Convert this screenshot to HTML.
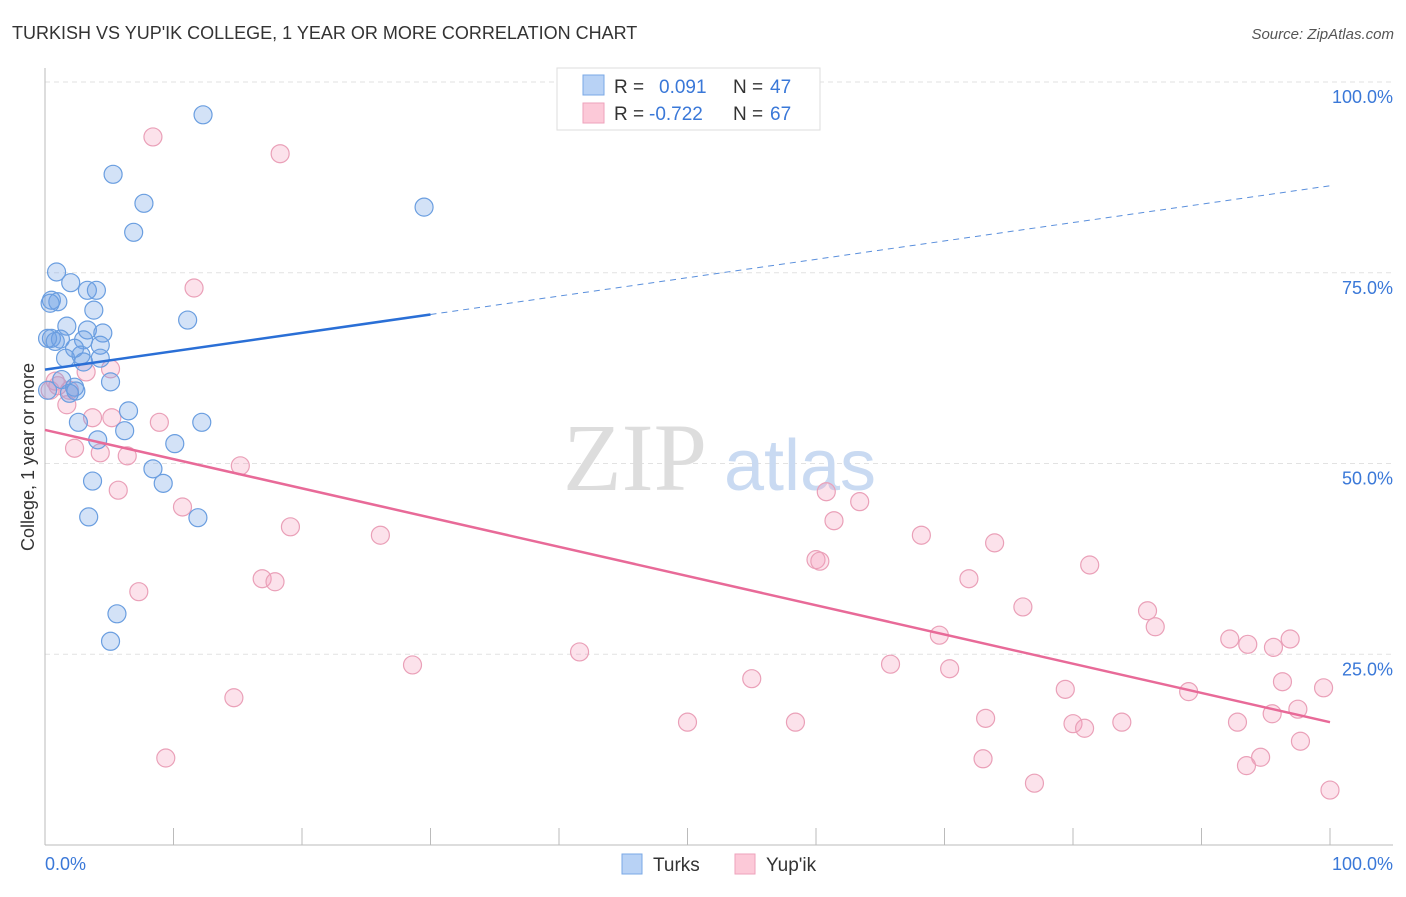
<!DOCTYPE html>
<html><head><meta charset="utf-8"><style>
body{margin:0;background:#fff;font-family:"Liberation Sans",sans-serif;}
</style></head><body>
<svg id="chart" width="1406" height="892" xmlns="http://www.w3.org/2000/svg" style="font-family:'Liberation Sans',sans-serif">
<text x="12" y="39" font-size="18" fill="#333">TURKISH VS YUP'IK COLLEGE, 1 YEAR OR MORE CORRELATION CHART</text>
<text x="1394" y="39" font-size="15" fill="#555" text-anchor="end" font-style="italic">Source: ZipAtlas.com</text>
<g id="grid"></g>
<text x="635" y="490" font-size="96" fill="#ddd" font-family="Liberation Serif,serif" text-anchor="middle">ZIP</text>
<text x="800" y="490" font-size="72" fill="#c9daf2" text-anchor="middle">atlas</text>
<text transform="translate(34,457) rotate(-90)" font-size="18" fill="#333" text-anchor="middle">College, 1 year or more</text>
<g id="pts"></g>
<g id="lines"></g>
<g>
<rect x="557" y="68" width="263" height="62" fill="#fff" stroke="#ddd"/>
<rect x="583" y="75" width="21" height="20" fill="#b8d2f5" stroke="#7aa8e6"/>
<rect x="583" y="103" width="21" height="20" fill="#fcc9d8" stroke="#eea2bb"/>
<text x="614" y="93" font-size="19" fill="#333">R = </text><text x="659" y="93" font-size="19" fill="#3a78d8">0.091</text>
<text x="733" y="93" font-size="19" fill="#333">N = </text><text x="770" y="93" font-size="19" fill="#3a78d8">47</text>
<text x="614" y="120" font-size="19" fill="#333">R = </text><text x="649" y="120" font-size="19" fill="#3a78d8">-0.722</text>
<text x="733" y="120" font-size="19" fill="#333">N = </text><text x="770" y="120" font-size="19" fill="#3a78d8">67</text>
</g>
<g>
<rect x="622" y="854" width="20" height="20" fill="#b8d2f5" stroke="#7aa8e6"/>
<text x="653" y="871" font-size="19" fill="#333">Turks</text>
<rect x="735" y="854" width="20" height="20" fill="#fcc9d8" stroke="#eea2bb"/>
<text x="766" y="871" font-size="19" fill="#333">Yup'ik</text>
</g>
</svg>
<script>
const blueX=[12.3,5.3,7.7,6.9,29.5,0.9,2.0,3.3,4.0,0.5,1.0,3.8,11.1,1.7,3.3,4.5,0.5,1.2,3.0,2.3,4.3,1.6,2.8,4.3,3.0,5.1,1.3,2.3,2.4,1.9,6.5,2.6,12.2,6.2,4.1,10.1,8.4,9.2,3.7,11.9,3.4,5.6,5.1,0.2,0.2,0.8,0.4];
const blueY=[95.7,87.9,84.1,80.3,83.6,75.1,73.7,72.7,72.7,71.4,71.2,70.1,68.8,68.0,67.5,67.1,66.4,66.3,66.2,65.1,65.5,63.8,64.2,63.8,63.3,60.7,61.0,60.0,59.5,59.2,56.9,55.4,55.4,54.3,53.1,52.6,49.3,47.4,47.7,42.9,43.0,30.3,26.7,66.4,59.6,66.0,71.0];
const pinkX=[8.4,18.3,11.6,5.1,3.2,0.8,0.4,1.7,3.7,5.2,8.9,2.3,4.3,6.4,15.2,5.7,10.7,60.8,63.4,61.4,19.1,26.1,68.2,73.9,60.0,60.3,81.3,16.9,17.9,71.9,7.3,76.1,85.8,86.4,69.6,92.2,93.6,95.6,96.9,41.6,28.6,65.8,70.4,55.0,96.3,79.4,89.0,99.5,14.7,50.0,58.4,73.2,80.0,80.9,83.8,92.8,95.5,97.5,97.7,9.4,73.0,94.6,93.5,77.0,100,1.0,1.9];
const pinkY=[92.8,90.6,73.0,62.4,62.0,60.8,59.6,57.7,56.0,56.0,55.4,52.0,51.4,51.0,49.7,46.5,44.3,46.3,45.0,42.5,41.7,40.6,40.6,39.6,37.4,37.2,36.7,34.9,34.5,34.9,33.2,31.2,30.7,28.6,27.5,27.0,26.3,25.9,27.0,25.3,23.6,23.7,23.1,21.8,21.4,20.4,20.1,20.6,19.3,16.1,16.1,16.6,15.9,15.3,16.1,16.1,17.2,17.8,13.6,11.4,11.3,11.5,10.4,8.1,7.2,60.2,59.6];
const yTicks=[25,50,75,100];
const xTickLabels=["0.0%","100.0%"];
const blueTrend=[62.3,86.4];
const pinkTrend=[54.4,16.1];
const NS="http://www.w3.org/2000/svg";
const X=v=>45+v*12.85, Y=v=>845-v*7.63;
function mk(t,a,p){const e=document.createElementNS(NS,t);for(const k in a)e.setAttribute(k,a[k]);p.appendChild(e);return e;}
const g=document.getElementById('grid');
yTicks.forEach(t=>{
 const l=mk('line',{x1:45,x2:1393,y1:Y(t),y2:Y(t),stroke:'#e2e2e2','stroke-dasharray':'5,4'},g);
 
 
 const tx=mk('text',{x:1393,y:Y(t)+21,'font-size':18,fill:'#3a78d8','text-anchor':'end'},g);
 tx.textContent=t.toFixed(1)+'%';
 
 
});
const ax=mk('line',{x1:45,x2:45,y1:68,y2:845,stroke:'#bbb'},g);


const bx=mk('line',{x1:45,x2:1393,y1:845,y2:845,stroke:'#bbb'},g);


for(let i=0;i<=10;i++){const t=mk('line',{x1:X(i*10),x2:X(i*10),y1:828,y2:845,stroke:'#bbb'},g);
 
 }
[[0,'start',45],[100,'end',1393]].forEach((d,i)=>{const t=mk('text',{x:d[2],y:870,'font-size':18,fill:'#3a78d8','text-anchor':d[1]},g);t.textContent=xTickLabels[i];
 
 });
const p=document.getElementById('pts');
pinkX.forEach((x,i)=>{const c=mk('circle',{cx:X(x),cy:Y(pinkY[i]),r:9,fill:'rgba(244,160,188,0.3)',stroke:'#eaa0b8','stroke-width':1.2},p);
 
 });
blueX.forEach((x,i)=>{const c=mk('circle',{cx:X(x),cy:Y(blueY[i]),r:9,fill:'rgba(110,160,230,0.3)',stroke:'#6a9ee0','stroke-width':1.2},p);
 
 });
const L=document.getElementById('lines');
const bAt=v=>blueTrend[0]+(blueTrend[1]-blueTrend[0])*v/100;
const b1=mk('line',{x1:X(0),y1:Y(bAt(0)),x2:X(30),y2:Y(bAt(30)),stroke:'#2a6fd6','stroke-width':2.5},L);


const b2=mk('line',{x1:X(30),y1:Y(bAt(30)),x2:X(100),y2:Y(bAt(100)),stroke:'#5a8fdc','stroke-width':1,'stroke-dasharray':'6,5'},L);


const p1=mk('line',{x1:X(0),y1:Y(pinkTrend[0]),x2:X(100),y2:Y(pinkTrend[1]),stroke:'#e86a98','stroke-width':2.5},L);


</script>
</body></html>
